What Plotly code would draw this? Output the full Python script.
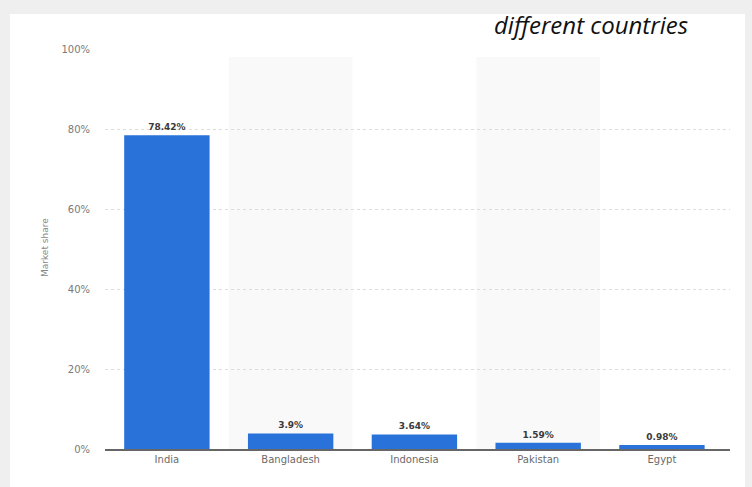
import plotly.graph_objects as go

# Market share by country
countries = ["India", "Bangladesh", "Indonesia", "Pakistan", "Egypt"]
share = [78.42, 3.9, 3.64, 1.59, 0.98]
share_labels = ["78.42%", "3.9%", "3.64%", "1.59%", "0.98%"]
y_ticks = [0, 20, 40, 60, 80, 100]
y_tick_text = ["0%", "20%", "40%", "60%", "80%", "100%"]

W, H = 752, 487
L, R, T, B = 105, 22, 49, 38
pw, ph = W - L - R, H - T - B


def px_x(px):
    return (px - L) / pw


def px_y(py):
    return (H - B - py) / ph


fig = go.Figure()
fig.add_trace(go.Bar(
    x=countries,
    y=share,
    text=share_labels,
    textposition="outside",
    textfont=dict(family="DejaVu Sans", size=9, color="#3a3a3a", weight="bold"),
    marker=dict(color="#2872d9", line=dict(width=0)),
    cliponaxis=False,
    hoverinfo="skip",
))

shapes = [
    # outer light frame and white card
    dict(type="rect", xref="paper", yref="paper", x0=px_x(0), x1=px_x(W), y0=px_y(H), y1=px_y(0),
         fillcolor="#efefef", line=dict(width=0), layer="below"),
    dict(type="rect", xref="paper", yref="paper", x0=px_x(10), x1=px_x(745), y0=px_y(H), y1=px_y(14),
         fillcolor="#ffffff", line=dict(width=0), layer="below"),
]
# alternating column bands behind every second category
for i in (1, 3):
    shapes.append(dict(type="rect", xref="x", yref="y", x0=i - 0.5, x1=i + 0.5, y0=0, y1=98,
                       fillcolor="#f9f9f9", line=dict(width=0), layer="below"))

fig.update_layout(
    width=W, height=H,
    margin=dict(l=L, r=R, t=T, b=B),
    paper_bgcolor="rgba(0,0,0,0)",
    plot_bgcolor="rgba(0,0,0,0)",
    bargap=0.31,
    showlegend=False,
    shapes=shapes,
    font=dict(family="DejaVu Sans", color="#666666"),
    xaxis=dict(
        showgrid=False,
        showline=True, linecolor="#666666", linewidth=2,
        tickfont=dict(family="DejaVu Sans", size=10, color="#6a6a6a"),
        ticks="", range=[-0.5, 4.55],
    ),
    yaxis=dict(
        range=[0, 100],
        tickvals=y_ticks, ticktext=y_tick_text,
        tickfont=dict(family="DejaVu Sans", size=10, color="#7a7a7a"),
        showgrid=True, gridcolor="#dcdcdc", gridwidth=1, griddash="dot",
        zeroline=False, showline=False,
        ticklabelstandoff=14,
    ),
    annotations=[
        dict(text="different countries", xref="paper", yref="paper",
             x=px_x(690), y=px_y(25), xanchor="right", yanchor="middle",
             showarrow=False,
             font=dict(family="Open Sans", size=24, color="#111111", style="italic")),
        dict(text="Market share", xref="paper", yref="paper",
             x=px_x(45), y=px_y(248), xanchor="center", yanchor="middle",
             textangle=-90, showarrow=False,
             font=dict(family="DejaVu Sans", size=9, color="#888888")),
    ],
)

fig.write_html("out.html")
